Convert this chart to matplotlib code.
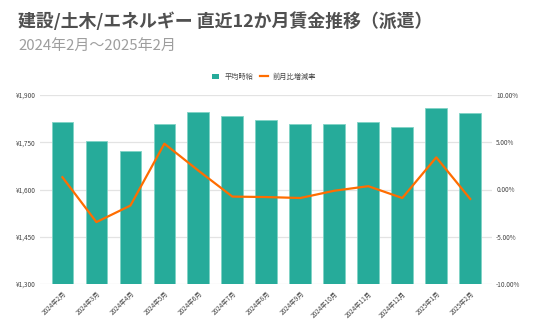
import numpy as np
import matplotlib.pyplot as plt
from matplotlib.ticker import FuncFormatter
from matplotlib.lines import Line2D
from matplotlib.patches import Patch

plt.rcParams['font.family'] = ['Noto Sans CJK JP', 'DejaVu Sans']

months = ['2024年2月', '2024年3月', '2024年4月', '2024年5月', '2024年6月', '2024年7月',
          '2024年8月', '2024年9月', '2024年10月', '2024年11月', '2024年12月',
          '2025年1月', '2025年2月']
wage = [1813, 1753, 1723, 1809, 1847, 1834, 1822, 1807, 1807, 1815, 1798, 1860, 1843]
change = [1.3, -3.45, -1.7, 4.85, 2.0, -0.75, -0.8, -0.9, -0.13, 0.35, -0.9, 3.4, -1.0]

bar_color = '#26AB9A'
line_color = '#FF6D00'
grid_color = '#E3E3E3'
tick_color = '#444444'

fig = plt.figure(figsize=(5.36, 3.31), dpi=100)
ax = fig.add_axes([40 / 536, 1 - 284 / 331, 452 / 536, 189 / 331])

x = np.arange(len(months))
ax.bar(x, wage, width=0.64, color=bar_color, edgecolor='#7FD3C6', linewidth=0.6, zorder=2)
ax.set_ylim(1300, 1900)
ax.set_yticks([1300, 1450, 1600, 1750, 1900])
ax.yaxis.set_major_formatter(FuncFormatter(lambda v, p: '¥{:,.0f}'.format(v)))
ax.set_xlim(-0.66, 12.64)
ax.set_xticks(x)
ax.set_xticklabels(months, rotation=45, ha='right', rotation_mode='anchor')
ax.grid(axis='y', color=grid_color, linewidth=0.9, zorder=0)
ax.set_axisbelow(True)
for s in ax.spines.values():
    s.set_visible(False)
ax.tick_params(axis='both', length=0, labelsize=4.6, colors=tick_color, pad=3)
ax.tick_params(axis='x', pad=4)

ax2 = ax.twinx()
ax2.plot(x, change, color=line_color, linewidth=1.6, zorder=3)
ax2.set_ylim(-10, 10)
ax2.set_yticks([-10, -5, 0, 5, 10])
ax2.yaxis.set_major_formatter(FuncFormatter(lambda v, p: '{:.2f}%'.format(v)))
for s in ax2.spines.values():
    s.set_visible(False)
ax2.tick_params(axis='y', length=0, labelsize=4.6, colors=tick_color, pad=3)

fig.text(18 / 536, 1 - 22 / 331, '建設/土木/エネルギー 直近12か月賃金推移（派遣）',
         fontsize=12.9, fontweight='bold', color='#505050', va='center')
fig.text(18 / 536, 1 - 46 / 331, '2024年2月～2025年2月',
         fontsize=10.8, color='#9E9E9E', va='center')

handles = [Patch(facecolor=bar_color, edgecolor='none'),
           Line2D([0], [0], color=line_color, linewidth=1.6)]
fig.legend(handles, ['平均時給', '前月比増減率'], loc='center',
           bbox_to_anchor=(264 / 536, 1 - 77 / 331), ncol=2, frameon=False,
           fontsize=5.2, handlelength=1.0, handleheight=0.8, columnspacing=1.0,
           handletextpad=0.7, labelcolor=tick_color)

fig.savefig('out.png', dpi=100, facecolor='white')
